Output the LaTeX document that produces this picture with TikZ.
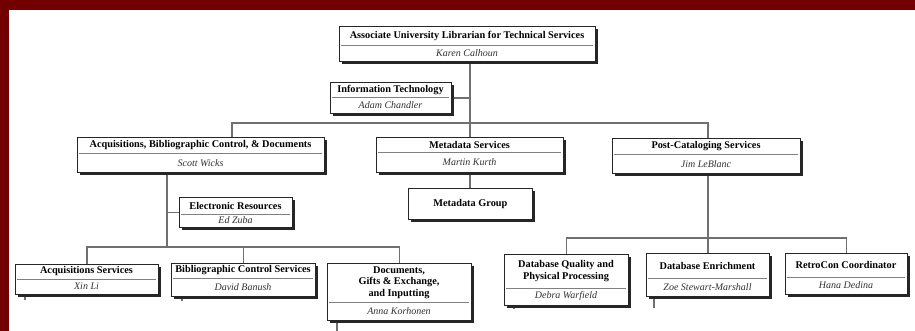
\documentclass[tikz,border=0pt]{standalone}
\usepackage{fontspec}
\setmainfont{Liberation Serif}
\usetikzlibrary{shadows,backgrounds}

\definecolor{frameMaroon}{RGB}{114,0,0}
\definecolor{linkGray}{RGB}{112,112,112}
\definecolor{nameGray}{RGB}{50,50,50}

\pgfdeclarelayer{backdrop}
\pgfsetlayers{backdrop,background,main}

\tikzset{
  orgframe/.style={draw=black!85, line width=0.8pt, fill=white, inner sep=0pt,
    drop shadow={shadow xshift=2.2pt, shadow yshift=-2.2pt, fill=black!85, opacity=1}},
  divline/.style={draw=black!50, line width=1pt},
  conn/.style={draw=linkGray, line width=1.3pt},
  titletext/.style={inner sep=0pt, align=center, font=\fontsize{10.3}{11.5}\selectfont\bfseries},
  nametext/.style={inner sep=0pt, text=nameGray, font=\fontsize{10}{11.5}\selectfont\itshape},
}

% #1 name, #2 left, #3 top, #4 right, #5 bottom, #6 divider y, #7 unit, #8 head
\newcommand\orgunit[8]{%
  \node[orgframe, anchor=north west, minimum width=#4-#2, minimum height=#5-#3] (#1) at (#2,-#3) {};
  \draw[divline] (#2+1.8,-#6) -- (#4-1.8,-#6);
  \node[titletext] (#1-t) at ({(#2+#4)/2},{-(#3+#6)/2}) {#7};
  \node[nametext] (#1-n) at ({(#2+#4)/2},{-(#6+#5)/2}) {#8};
}

\begin{document}
\begin{tikzpicture}[x=1pt,y=1pt]
  \useasboundingbox (0,0) rectangle (915,-331);
  \begin{pgfonlayer}{backdrop}
    \fill[frameMaroon] (0,0) rectangle (915,-331);
    \fill[white] (9,-10) rectangle (915,-331);
  \end{pgfonlayer}

  % units
  \orgunit{aul}{339}{26}{595}{61}{46}{Associate University Librarian for Technical Services}{Karen Calhoun}
  \orgunit{it}{330}{82}{451}{113}{98}{Information Technology}{Adam Chandler}
  \orgunit{acq}{77}{137}{324}{172}{154}{Acquisitions, Bibliographic Control, \& Documents}{Scott Wicks}
  \orgunit{meta}{376}{137}{563}{172}{153}{Metadata Services}{Martin Kurth}
  \orgunit{post}{612}{138}{800}{173}{155}{Post-Cataloging Services}{Jim LeBlanc}
  \node[orgframe, anchor=north west, minimum width=124, minimum height=31] (mgroup) at (408,-188) {};
  \node[titletext] (mgroup-t) at (mgroup.center) {Metadata Group};
  \orgunit{er}{179}{197}{292}{227}{214}{Electronic Resources}{Ed Zuba}
  \orgunit{acqs}{15}{264}{158}{294}{279}{Acquisitions Services}{Xin Li}
  \orgunit{bib}{171}{263}{315}{296}{278}{Bibliographic Control Services}{David Banush}
  \orgunit{docs}{327}{263}{471}{320}{302}{Documents,\\Gifts \& Exchange,\\and Inputting}{Anna Korhonen}
  \orgunit{dbq}{504}{254}{628}{305}{288}{Database Quality and\\Physical Processing}{Debra Warfield}
  \orgunit{dbe}{646}{253}{769}{296}{278}{Database Enrichment}{Zoe Stewart-Marshall}
  \orgunit{retro}{785}{253}{907}{294}{277}{RetroCon Coordinator}{Hana Dedina}

  % junction points
  \coordinate (j0) at (470,-123);
  \coordinate (ja) at (232,-123);
  \coordinate (jp) at (708,-123);
  \coordinate (jb) at (167,-247);
  \coordinate (jq) at (708,-238);
  \coordinate (s1) at (25,-300);
  \coordinate (s2) at (182,-301);
  \coordinate (s3) at (337,-331);
  \coordinate (s4) at (514,-309);
  \coordinate (s5) at (654,-308);

  \begin{pgfonlayer}{background}
    \draw[conn] (aul.south -| j0) -- (j0);
    \draw[conn] (it.east) -- (it.east -| j0);
    \draw[conn] (acq.north -| ja) -- (ja) -- (jp) -- (post.north -| jp);
    \draw[conn] (j0) -- (meta.north -| j0);
    \draw[conn] (meta.south -| j0) -- (mgroup.north -| j0);
    \draw[conn] (acq.south -| jb) -- (jb);
    \draw[conn] (er.west) -- (er.west -| jb);
    \draw[conn] (acqs.north) -- (acqs.north |- jb) -- (docs.north |- jb) -- (docs.north);
    \draw[conn] (bib.north) -- (bib.north |- jb);
    \draw[conn] (post.south -| jq) -- (jq);
    \draw[conn] (dbq.north) -- (dbq.north |- jq) -- (retro.north |- jq) -- (retro.north);
    \draw[conn] (dbe.north) -- (dbe.north |- jq);
    \draw[conn] (acqs.south -| s1) -- (s1);
    \draw[conn] (bib.south -| s2) -- (s2);
    \draw[conn] (docs.south -| s3) -- (s3);
    \draw[conn] (dbq.south -| s4) -- (s4);
    \draw[conn] (dbe.south -| s5) -- (s5);
  \end{pgfonlayer}
\end{tikzpicture}
\end{document}
